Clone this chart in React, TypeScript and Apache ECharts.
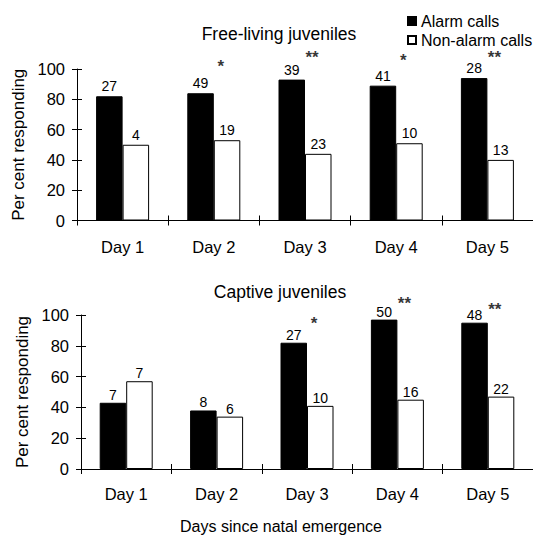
import React, { useEffect, useRef } from "react";
import * as echarts from "echarts";

const days = ["Day 1", "Day 2", "Day 3", "Day 4", "Day 5"];
const seriesNames = ["Alarm calls", "Non-alarm calls"];
const titles = ["Free-living juveniles", "Captive juveniles"];
const xName = "Days since natal emergence";
const yName = "Per cent responding";

// Free-living juveniles (per cent responding, sample sizes above bars)
const freeAlarm = [82, 84, 93, 89, 94];
const freeNonAlarm = [50, 53, 44, 51, 40];
const freeAlarmN = [27, 49, 39, 41, 28];
const freeNonAlarmN = [4, 19, 23, 10, 13];
const freeStars = ["", "*", "**", "*", "**"];
const freeStarLevel = [null, 104, 110, 108, 110];

// Captive juveniles
const captiveAlarm = [43, 38, 82, 97, 95];
const captiveNonAlarm = [57, 34, 41, 45, 47];
const captiveAlarmN = [7, 8, 27, 50, 48];
const captiveNonAlarmN = [7, 6, 10, 16, 22];
const captiveStars = ["", "", "*", "**", "**"];
const captiveStarLevel = [null, null, 97, 110, 106];

const FONT = "'Liberation Sans', Arial, Helvetica, sans-serif";

function barSeries(name: string, values: number[], ns: number[], gi: number, dark: boolean, dist: number) {
  return {
    type: "bar",
    name,
    xAxisIndex: gi,
    yAxisIndex: gi,
    data: values,
    barWidth: 26.5,
    barGap: "0%",
    itemStyle: dark
      ? { color: "#000", borderColor: "#000", borderWidth: 1 }
      : { color: "#fff", borderColor: "#000", borderWidth: 1 },
    label: {
      show: true,
      position: "top",
      distance: dist,
      formatter: (p: any) => String(ns[p.dataIndex]),
      color: "#000",
      fontSize: 14,
      fontFamily: FONT,
    },
    emphasis: { disabled: true },
  };
}

function starSeries(levels: (number | null)[], stars: string[], gi: number) {
  const data = levels
    .map((v, i) => [i, v])
    .filter((d) => d[1] !== null);
  return {
    type: "scatter",
    xAxisIndex: gi,
    yAxisIndex: gi,
    symbolSize: 0,
    clip: false,
    silent: true,
    data,
    label: {
      show: true,
      position: "inside",
      offset: [7, 4],
      formatter: (p: any) => stars[p.value[0]],
      color: "#000",
      fontSize: 17,
      fontWeight: "bold",
      fontFamily: FONT,
    },
  };
}

function mainX(gi: number, margin: number) {
  return {
    type: "category",
    gridIndex: gi,
    data: days,
    position: "bottom",
    axisLine: { show: true, lineStyle: { color: "#000", width: 1 } },
    axisTick: { show: true, length: 5, lineStyle: { color: "#000", width: 1 } },
    axisLabel: { color: "#000", fontSize: 16.5, fontFamily: FONT, margin },
    splitLine: { show: false },
  };
}
function dupX(gi: number) {
  return {
    type: "category",
    gridIndex: gi,
    data: days,
    position: "bottom",
    axisLine: { show: false },
    axisTick: { show: true, inside: true, length: 5, lineStyle: { color: "#000", width: 1 } },
    axisLabel: { show: false },
    splitLine: { show: false },
  };
}
function mainY(gi: number) {
  return {
    type: "value",
    gridIndex: gi,
    min: 0,
    max: 100,
    interval: 20,
    position: "left",
    name: yName,
    nameLocation: "middle",
    nameGap: 50,
    nameTextStyle: { color: "#000", fontSize: 17, fontFamily: FONT },
    axisLine: { show: true, lineStyle: { color: "#000", width: 1 } },
    axisTick: { show: true, length: 5, lineStyle: { color: "#000", width: 1 } },
    axisLabel: { color: "#000", fontSize: 16.5, fontFamily: FONT, margin: 12 },
    splitLine: { show: false },
  };
}
function dupY(gi: number) {
  return {
    type: "value",
    gridIndex: gi,
    min: 0,
    max: 100,
    interval: 20,
    position: "left",
    axisLine: { show: false },
    axisTick: { show: true, inside: true, length: 5, lineStyle: { color: "#000", width: 1 } },
    axisLabel: { show: false },
    splitLine: { show: false },
  };
}

export default function App() {
  const ref = useRef<HTMLDivElement>(null);
  useEffect(() => {
    if (!ref.current) return;
    const chart = echarts.init(ref.current, null, { renderer: "svg" });
    chart.setOption({
      animation: false,
      backgroundColor: "#fff",
      textStyle: { fontFamily: FONT },
      grid: [
        { left: 77, top: 69, width: 458, height: 151.5 },
        { left: 81, top: 315, width: 456, height: 154 },
      ],
      legend: {
        orient: "vertical",
        left: 402,
        top: 8,
        itemWidth: 8,
        itemHeight: 8,
        itemGap: 3,
        icon: "rect",
        selectedMode: false,
        data: seriesNames,
        textStyle: { color: "#000", fontSize: 16, fontFamily: FONT },
      },
      xAxis: [mainX(0, 18), mainX(1, 16), dupX(0), dupX(1)],
      yAxis: [mainY(0), mainY(1), dupY(0), dupY(1)],
      graphic: [
        {
          type: "text",
          x: 279,
          y: 33.5,
          style: { text: titles[0], fill: "#000", font: `17.5px ${FONT}`, textAlign: "center", textVerticalAlign: "middle" },
        },
        {
          type: "text",
          x: 280,
          y: 291.5,
          style: { text: titles[1], fill: "#000", font: `17.5px ${FONT}`, textAlign: "center", textVerticalAlign: "middle" },
        },
        {
          type: "text",
          x: 281,
          y: 526,
          style: { text: xName, fill: "#000", font: `16px ${FONT}`, textAlign: "center", textVerticalAlign: "middle" },
        },
      ],
      series: [
        barSeries(seriesNames[0], freeAlarm, freeAlarmN, 0, true, 3),
        barSeries(seriesNames[1], freeNonAlarm, freeNonAlarmN, 0, false, 3),
        starSeries(freeStarLevel, freeStars, 0),
        barSeries(seriesNames[0], captiveAlarm, captiveAlarmN, 1, true, 1),
        barSeries(seriesNames[1], captiveNonAlarm, captiveNonAlarmN, 1, false, 1),
        starSeries(captiveStarLevel, captiveStars, 1),
      ],
    });
    return () => chart.dispose();
  }, []);
  return (
    <div
      ref={ref}
      style={{ position: "fixed", left: 0, top: 0, width: 533, height: 544, background: "#fff" }}
    />
  );
}
